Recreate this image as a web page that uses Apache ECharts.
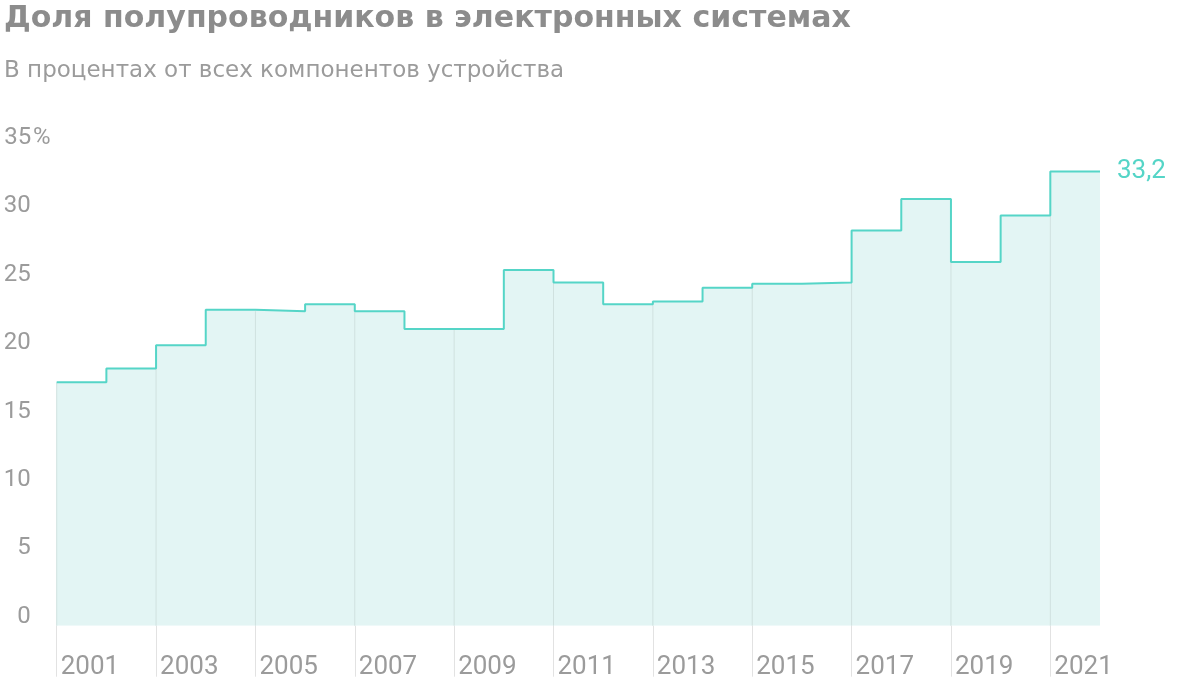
<!DOCTYPE html>
<html><head><meta charset="utf-8">
<script src="https://cdn.jsdelivr.net/npm/echarts@6/dist/echarts.min.js"></script>
<style>html,body{margin:0;padding:0;background:#fff}#c{width:1200px;height:686px}</style>
</head><body><div id="c"></div>
<script>
const titleText = 'Доля полупроводников в электронных системах';
const subtitleText = 'В процентах от всех компонентов устройства';
const years = ['2001','2002','2003','2004','2005','2006','2007','2008','2009','2010','2011',
               '2012','2013','2014','2015','2016','2017','2018','2019','2020','2021'];
const values = [17.8, 18.8, 20.5, 23.1, 23.0, 23.5, 23.0, 21.7, 21.7, 26.0, 25.1,
                23.5, 23.7, 24.7, 25.0, 25.1, 28.9, 31.2, 26.6, 30.0, 33.2];
const yTickValues = [0, 5, 10, 15, 20, 25, 30, 35];
const xTickIndexes = [0, 2, 4, 6, 8, 10, 12, 14, 16, 18, 20];

const TEAL = '#55d5c7';
const FILL = '#e3f5f4';
const GRAY = '#9b9b9b';
const FONT = 'Roboto';
const HEAD_FONT = 'DejaVu Sans';

// step points: each year spans [i, i+1]; last value held to the end of 2021
const stepData = values.map((v, i) => [i, v]);
stepData.push([values.length, values[values.length - 1]]);
const dividerData = xTickIndexes.map(i => [i, values[i]]);

const chart = echarts.init(document.getElementById('c'), null, {renderer: 'canvas'});
chart.setOption({
  animation: false,
  backgroundColor: '#fff',
  title: {
    text: titleText,
    subtext: subtitleText,
    left: -1, top: -6,
    itemGap: 17,
    textStyle: {fontFamily: HEAD_FONT, fontWeight: 'bold', fontSize: 30, color: '#8c8c8c', lineHeight: 40},
    subtextStyle: {fontFamily: HEAD_FONT, fontSize: 23, color: '#9b9b9b', lineHeight: 30}
  },
  grid: {left: 56.7, right: 100, top: 147, bottom: 60.3, containLabel: false},
  xAxis: {
    type: 'value', min: 0, max: years.length, interval: 2,
    axisLine: {show: false},
    splitLine: {show: false},
    axisTick: {show: true, length: 51, customValues: xTickIndexes,
               lineStyle: {color: '#e2e2e2', width: 1}},
    axisLabel: {
      show: true, customValues: xTickIndexes,
      formatter: v => years[v] || '',
      align: 'left', padding: [0, 0, 0, 4], margin: 29,
      fontFamily: FONT, fontSize: 26, color: GRAY
    }
  },
  yAxis: {
    type: 'value', min: 0, max: 35, interval: 5,
    axisLine: {show: false}, axisTick: {show: false}, splitLine: {show: false},
    axisLabel: {
      customValues: yTickValues,
      formatter: v => v === 35 ? '{n|' + v + '}{p|%}' : '{n|' + v + '}{q| }',
      align: 'right', margin: 6, verticalAlign: 'bottom',
      rich: {
        n: {fontFamily: FONT, fontSize: 24, color: GRAY, lineHeight: 18},
        p: {fontFamily: FONT, fontSize: 24, color: GRAY, lineHeight: 18, padding: [0, 0, 0, 2]},
        q: {fontFamily: FONT, fontSize: 24, width: 20, lineHeight: 18}
      }
    }
  },
  series: [
    {
      type: 'line', step: 'end', data: stepData, symbol: 'none', z: 1,
      lineStyle: {width: 0, opacity: 0},
      areaStyle: {color: FILL, opacity: 1},
      silent: true
    },
    {
      type: 'bar', data: dividerData, barWidth: 1, z: 2,
      itemStyle: {color: '#d0e1df'}, silent: true
    },
    {
      type: 'line', step: 'end', data: stepData, symbol: 'none', z: 3,
      lineStyle: {width: 2, color: TEAL},
      endLabel: {
        show: true, distance: 17,
        formatter: p => String(p.value[1]).replace('.', ','),
        fontFamily: FONT, fontSize: 26, color: TEAL
      },
      silent: true
    }
  ]
});
</script>
</body></html>
